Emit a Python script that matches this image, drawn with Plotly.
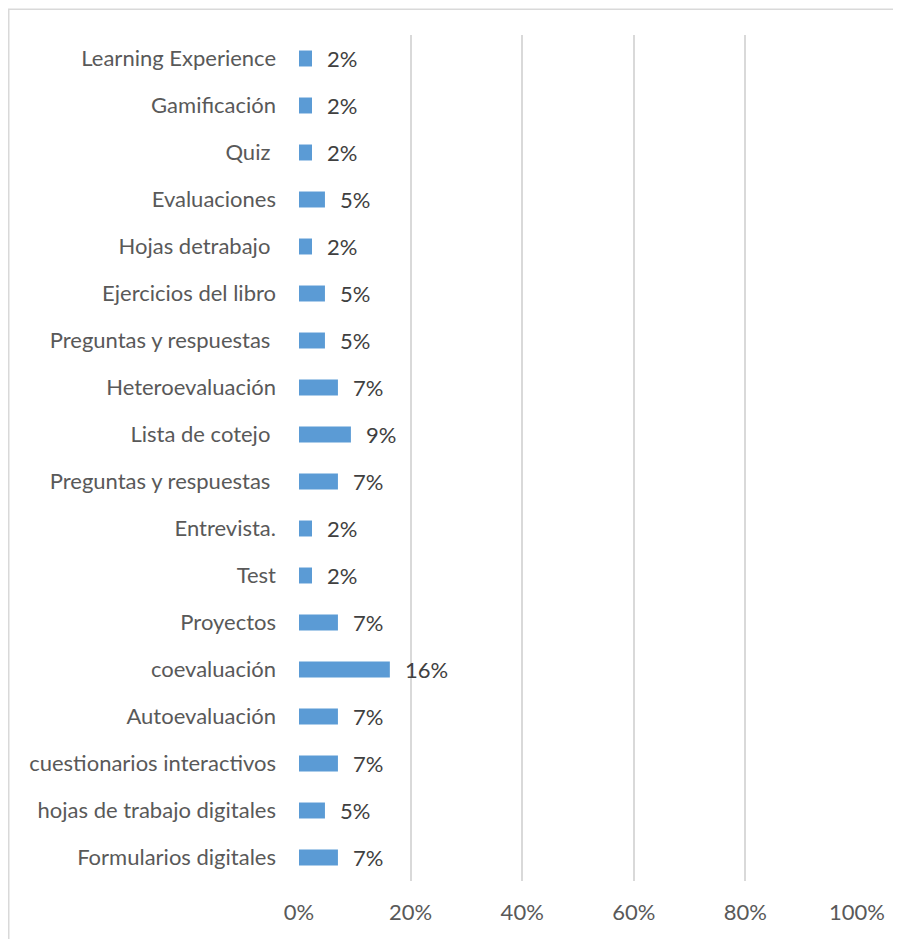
import plotly.graph_objects as go

categories = [
    "Learning Experience", "Gamificación", "Quiz ", "Evaluaciones", "Hojas detrabajo ",
    "Ejercicios del libro", "Preguntas y respuestas ", "Heteroevaluación", "Lista de cotejo ",
    "Preguntas y respuestas ", "Entrevista.", "Test", "Proyectos", "coevaluación",
    "Autoevaluación", "cuestionarios interactivos", "hojas de trabajo digitales",
    "Formularios digitales",
]
counts = [1, 1, 1, 2, 1, 2, 2, 3, 4, 3, 1, 1, 3, 7, 3, 3, 2, 3]
total = sum(counts)
values = [c / total for c in counts]
x_ticks = [0, 0.2, 0.4, 0.6, 0.8, 1.0]
x_tick_labels = ["0%", "20%", "40%", "60%", "80%", "100%"]

n = len(categories)
ypos = list(range(n - 1, -1, -1))

FONT = "Lato"
FS = 22
TXT = "#595959"

# page body has an 8px margin; place the plot area accordingly
OFF = 8
W, H = 901 - OFF, 939 - OFF
L, T = 299 - OFF, 34.5 - OFF
PW, PH = 558, 847
R, B = W - L - PW, H - T - PH

fig = go.Figure(go.Bar(
    x=values, y=ypos, orientation="h",
    marker=dict(color="#5B9BD5", line=dict(width=0)),
    width=0.34, hoverinfo="skip",
))

for v, y in zip(values, ypos):
    fig.add_annotation(x=v, y=y, xref="x", yref="y", text=f"{round(v*100)}%",
                       showarrow=False, xanchor="left", xshift=13,
                       font=dict(family=FONT, size=FS, color="#404040"))

fig.add_shape(type="rect", xref="paper", yref="paper",
              x0=(8.75 - 299) / PW, x1=(940 - 299) / PW,
              y0=(881.5 - 980) / PH, y1=(881.5 - 8.75) / PH,
              line=dict(color="#D9D9D9", width=1.5), fillcolor="rgba(0,0,0,0)", layer="below")

fig.update_layout(
    width=W, height=H,
    margin=dict(l=L, r=R, t=T, b=B, pad=0),
    paper_bgcolor="white", plot_bgcolor="white",
    showlegend=False,
    font=dict(family=FONT, size=FS, color=TXT),
    xaxis=dict(range=[0, 1], tickvals=x_ticks, ticktext=x_tick_labels,
               showgrid=True, gridcolor="#D9D9D9", gridwidth=1.5,
               zeroline=False, showline=False, ticks="", fixedrange=True,
               ticklabelstandoff=16,
               tickfont=dict(family=FONT, size=FS, color=TXT)),
    yaxis=dict(range=[-0.5, n - 0.5], tickvals=ypos,
               ticktext=[c.replace(" ", "\u00a0") if c.endswith(" ") else c for c in categories],
               showgrid=False, zeroline=False, showline=False, ticks="",
               ticklabelstandoff=22,
               tickfont=dict(family=FONT, size=FS, color=TXT)),
)

fig.write_html("out.html")
